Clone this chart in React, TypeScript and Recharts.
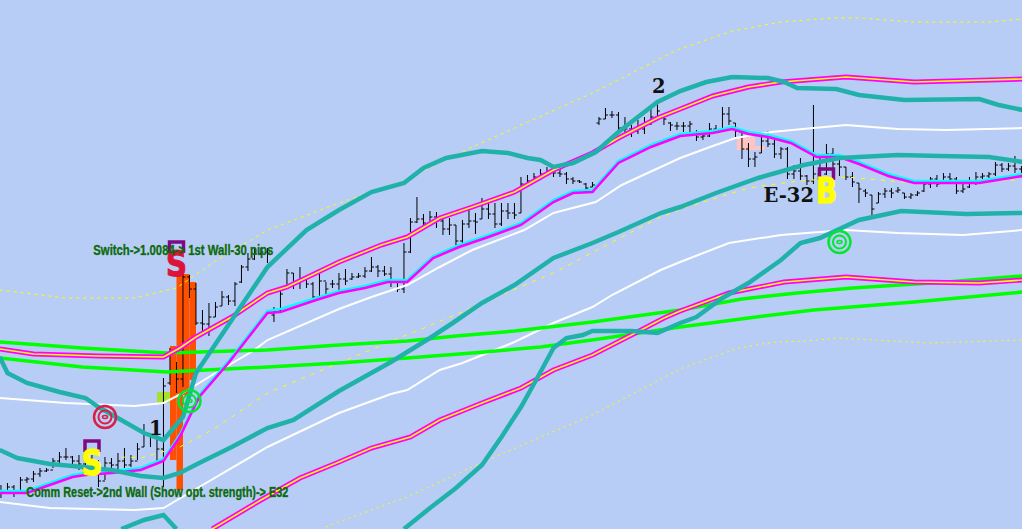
import { Bar, ComposedChart, Line, ReferenceArea, Scatter, XAxis, YAxis } from 'recharts'

const barHigh = [44,46,44,52,52,58,61,61,71,77,81,73,74,77,74,69,72,71,76,81,74,86,105,96,94,151,181,167,256,254,246,219,226,227,238,234,247,264,276,281,281,281,222,242,260,256,262,254,247,255,247,249,256,260,256,256,262,272,264,263,262,249,286,311,332,315,318,317,311,311,304,309,321,316,331,327,326,326,326,326,352,354,356,360,362,361,362,357,352,349,346,347,412,421,418,417,412,404,409,412,420,426,414,407,407,407,408,399,397,406,404,422,422,406,397,386,377,393,398,389,382,382,364,371,354,424,375,385,381,372,362,357,346,340,334,337,341,341,342,336,336,338,347,352,354,356,356,352,346,352,357,356,357,367,366,366,373,363]
const barLow = [31,36,32,37,46,47,52,57,61,65,69,62,59,62,56,42,49,57,58,61,62,69,82,82,67,42,144,136,142,231,204,194,193,212,223,224,223,246,258,269,274,266,207,217,241,240,240,241,228,231,232,241,236,244,249,251,251,257,252,253,242,237,236,276,306,302,303,301,294,294,284,285,301,295,310,310,301,303,310,310,316,343,346,349,354,352,352,345,345,346,337,342,404,410,411,398,397,392,395,395,404,412,404,398,399,397,393,388,389,392,397,397,404,392,370,362,362,376,382,371,370,350,350,349,344,345,337,354,359,353,349,342,326,332,314,326,331,331,336,330,330,333,337,341,342,346,345,335,336,341,344,350,351,353,357,358,356,355]
const barOpen = [38,36,42,38,49,50,55,58,59,68,72,72,68,65,70,62,48,66,64,68,64,68,82,94,92,80,146,158,150,252,240,206,205,212,223,232,228,247,262,270,275,277,214,218,241,256,246,250,245,232,248,245,245,250,250,252,253,258,262,258,255,247,240,277,307,310,306,312,308,300,304,288,305,308,310,320,315,305,318,316,316,345,348,352,355,358,356,355,350,348,345,342,406,410,414,414,401,400,398,400,405,412,414,406,403,403,403,396,392,393,400,399,415,406,397,380,370,376,388,385,375,380,355,358,353,348,355,355,375,365,362,352,346,338,334,326,335,338,338,336,332,334,338,345,350,346,352,350,338,342,348,352,353,355,364,360,363,360]
const barClose = [36,42,38,49,50,55,58,59,68,72,72,68,65,70,62,48,66,64,68,64,68,80,96,92,80,143,158,150,252,240,206,205,212,222,232,228,245,262,270,275,277,276,218,235,256,246,250,245,232,248,240,245,250,248,252,253,258,262,258,255,247,240,277,307,310,306,312,308,300,304,288,305,308,307,320,315,305,318,316,314,345,348,352,355,358,356,355,350,348,347,341,344,410,414,414,401,400,398,400,405,412,418,410,404,403,403,405,392,393,400,399,415,408,398,380,370,372,388,385,375,380,355,358,353,348,355,345,375,365,362,352,347,340,336,320,335,338,336,339,332,334,336,345,350,345,352,350,338,340,348,352,353,355,364,360,363,360,358]

const tealUpperBars = [-0.2,1,4,9,13,15,18.5,22,25,28,30,35.5,41,47,52,57,62,65,68.5,74,78,81,83,85,88,91.5,95,101,104.5,108.5,112.5,118,120.5,122.5,128.5,132,139,150.5,153.5,157.2]
const tealUpperValues = [172,156,146,137,131,122,109,96,89,112,156,209,262,299,319,337,346,361,371,378,376,371,369,362,366,377,397,427,438,447,452,451,447,441,440,434,429,430,424,419]
const tealMiddleBars = [-0.2,2.5,7.5,11,17,21.5,25,27.5,30.5,35.5,41,45,52,60,66,69.5,74,79,85,91,95,101.5,104.5,110,116.5,123.5,129,138,144.5,152,157.2]
const tealMiddleValues = [79,71,65,63,59,53,51,56,66,82,101,109,138,167,191,206,226,244,271,286,297,316,322,336,351,364,371,374,373,372,367]
const tealDipBars = [18.5,22,25,27]
const tealDipValues = [0,9,14,0]
const tealLowerBars = [62,66,70,74,77,80,82.5,85,87,89.5,91,97,101,104.5,107,111,115,120,123,126,132,138.5,148.5,157.2]
const tealLowerValues = [0,21,41,64,92,122,151,181,191,194,198,198,196,206,212,231,246,269,286,291,309,318,315,316]

const bandUpperBars = [-0.2,5,15,25,27.5,30,35.5,41,44,52,58.5,62.5,67.5,72.5,79,85,91,95,101,104.5,109.5,115,120,130,140.5,157.2]
const bandUpperValues = [180,175,173,172,181,192,212,236,242,267,284,292,311,322,337,359,376,391,411,420,433,442,447,452,447,450]
const bandLowerBars = [32.5,40,46,52,57,63,67.5,74,80,85,91,97,102,104.5,112,120.5,130,140.5,150.5,157.2]
const bandLowerValues = [0,29,51,67,81,92,109,126,141,159,174,194,211,218,236,247,252,247,246,249]

const signalBars = [-0.2,4,7.5,11,13,17,21.5,25,27.5,29,30.5,35,41,43,48.5,52,56,59.5,62.5,66.5,70.5,75,80,85,88,91,95,100,104.5,109.5,112.5,115,118,121.5,125.5,129,132,136.5,140.5,147,150.5,157.2]
const signalValues = [36,36,44,52,54,56,59,68,92,112,132,166,216,217,229,236,241,247,247,271,282,292,304,327,336,337,366,382,393,396,400,395,392,386,372,372,365,353,346,346,346,353]
const signalFastValues = [38,38,46,54,56,58,61,70,94,114,134,168,218,220,231,238,243,249,249,273,284,294,306,329,338,339,368,384,395,398,402,397,394,388,374,374,367,355,348,348,348,355]

const whiteUpperBars = [-0.2,10,20.5,25,28,33,39,41,52,57,62.5,67.5,72.5,80.5,85,91.5,95.5,104.5,109.5,113,118.5,125,130,138,145.5,157.2]
const whiteUpperValues = [131,126,123,126,136,156,179,189,220,232,244,262,279,299,316,327,344,371,383,391,397,401,404,400,399,401]
const whiteLowerBars = [-0.2,7.5,20.5,25,30.5,41,52,60,62.5,67.5,71,79,85,91,94,101.5,104.5,112,120,130,138,148,157.2]
const whiteLowerValues = [27,21,19,21,42,82,116,135,139,159,166,187,206,222,234,259,267,286,294,299,296,294,299]

const greenUpperBars = [-0.2,12.5,25.5,41,52,62.5,70,79,91,104.5,114,122.5,131,145.5,157.2]
const greenUpperValues = [187,181,176,179,184,188,193,198,207,219,230,236,241,247,253]
const greenLowerBars = [-0.2,12.5,25.5,41,52,62.5,72.5,83,92,104.5,115,125,140.5,157.2]
const greenLowerValues = [171,162,157,162,166,171,176,182,190,202,211,219,227,237]

const dotUpperBars = [-0.2,10,20.5,27,32.5,41,52,61.5,71.5,91,98,104,112.5,120,128,132.5,140,152,157.2]
const dotUpperValues = [239,231,231,241,266,299,326,347,379,436,459,479,498,507,511,511,507,507,510]
const dotMiddleBars = [18.5,21.5,27.5,32.5,41,52,68,78,85,95.5,101.5,105.5,115,121.5,130,140.5,156]
const dotMiddleValues = [72,71,82,99,136,166,209,237,256,292,312,322,341,347,352,346,349]
const dotLowerBars = [50,52,62.5,72.5,83,91,104.5,109.5,113.5,119,124,129,134,143,157.2]
const dotLowerValues = [2,7,32,62,92,114,160,172,181,187,188,191,189,186,189]

const orangeFrom = [26,27,28,29]
const orangeTo = [27,28,29,30]
const orangeHigh = [183,255,255,247]
const orangeLow = [69,39,134,149]

const redTargetBars = [16]
const redTargetValues = [112]
const greenTargetBars = [29,129]
const greenTargetValues = [128,287]

const waveLabels = ['1','2','E-32']
const waveBars = [23.8,101.2,121.2]
const waveValues = [102,444,335]

const sellBars = [27]
const sellValues = [266]
const entryLabels = ['S','B']
const entryBars = [14,127]
const entryValues = [67,339]

const notes = ['Switch->1.0084-> 1st Wall-30 pips','Comm Reset->2nd Wall (Show opt. strength)-> E32']
const noteBars = [14.2,3.9]
const noteValues = [274,32]
const noteWidths = [180,262]

const ohlc = barHigh.map((high, i) => ({ bar: i, high, low: barLow[i], open: barOpen[i], close: barClose[i] }))
const pts = (bars: number[], values: number[], extra?: string[]) =>
    bars.map((bar, i) => ({ bar, value: values[i], text: extra ? extra[i] : '' }))

const BG = '#B8CDF6'

function OhlcBar(props: any) {
    const { x, y, width, height, payload } = props
    const cx = x + width / 2
    const top = Math.min(y, y + height)
    const h = Math.abs(height)
    const at = (v: number) => top + ((payload.high - v) / (payload.high - payload.low)) * h
    return (
        <g stroke="#000" strokeWidth={1} fill="none">
            <line x1={cx} x2={cx} y1={top} y2={top + h} />
            <line x1={cx - 2.5} x2={cx} y1={at(payload.open)} y2={at(payload.open)} />
            <line x1={cx} x2={cx + 2.5} y1={at(payload.close)} y2={at(payload.close)} />
        </g>
    )
}

function Target(color: string) {
    return (props: any) => (
        <g fill="none" stroke={color}>
            <circle cx={props.cx} cy={props.cy} r={11} strokeWidth={2.5} />
            <circle cx={props.cx} cy={props.cy} r={6.5} strokeWidth={2} />
            <ellipse cx={props.cx} cy={props.cy} rx={2.5} ry={1.5} strokeWidth={1.5} />
        </g>
    )
}

function WaveLabel(props: any) {
    return (
        <text x={props.cx} y={props.cy + 8} textAnchor="middle" fontFamily="'DejaVu Serif'" fontWeight="bold" fontSize={19.5} fill="#111">
            {props.payload.text}
        </text>
    )
}

function Hat(cx: number, cy: number) {
    return <path d={`M${cx - 7} ${cy + 8}V${cy - 3}H${cx + 7}V${cy + 8}`} fill="none" stroke="#7D0A82" strokeWidth={3.5} />
}

function Entry(color: string) {
    return (props: any) => (
        <g>
            {Hat(props.cx, props.cy - 18)}
            <text x={props.cx} y={props.cy + 13} textAnchor="middle" textLength={21} lengthAdjust="spacingAndGlyphs"
                fontFamily="'DejaVu Sans'" fontWeight="bold" fontSize={35} fill={color} stroke={color} strokeWidth={1.2}>
                {props.payload.text}
            </text>
        </g>
    )
}

function Note(props: any) {
    return (
        <text x={props.cx} y={props.cy} textLength={noteWidths[notes.indexOf(props.payload.text)]} lengthAdjust="spacingAndGlyphs"
            fontFamily="'Liberation Sans'" fontWeight="bold" fontSize={14.5} fill="#0B6A0B" stroke="#0B6A0B" strokeWidth={0.5} strokeOpacity={0.7}>
            {props.payload.text}
        </text>
    )
}

const line = (key: string, bars: number[], values: number[], color: string, width: number, dash?: string) => (
    <Line key={key} data={pts(bars, values)} dataKey="value" type="linear" stroke={color} strokeWidth={width}
        strokeDasharray={dash} dot={false} activeDot={false} legendType="none" isAnimationActive={false} />
)

export default function App() {
    return (
        <div style={{ width: 1022, height: 529, background: BG, overflow: 'hidden' }}>
            <style>{'body{margin:0;overflow:hidden}'}</style>
            <ComposedChart width={1022} height={529} data={ohlc} margin={{ top: 0, right: 0, bottom: 0, left: 0 }}>
                <XAxis dataKey="bar" type="number" domain={[-0.154, 157.08]} allowDataOverflow hide />
                <YAxis dataKey="value" type="number" domain={[0, 529]} allowDataOverflow hide />

                {orangeFrom.map((from, i) => (
                    <ReferenceArea key={i} x1={from} x2={orangeTo[i]} y1={orangeLow[i]} y2={orangeHigh[i]} fill="#FF5000" fillOpacity={1} stroke="none" />
                ))}
                <ReferenceArea x1={24} x2={26} y1={126} y2={137} fill="#A8E030" fillOpacity={1} stroke="none" />
                <ReferenceArea x1={113.2} x2={116} y1={379} y2={392} fill="#FFC4C4" fillOpacity={1} stroke="none" />
                <ReferenceArea x1={116} x2={117.5} y1={379} y2={383} fill="#FFC4C4" fillOpacity={1} stroke="none" />

                <Bar dataKey={(d: any) => [d.low, d.high]} barSize={5} shape={OhlcBar} isAnimationActive={false} />

                {line('dotUpper', dotUpperBars, dotUpperValues, '#FFFF00', 1, '3 4')}
                {line('dotMiddle', dotMiddleBars, dotMiddleValues, '#FFFF00', 1, '4 6')}
                {line('dotLower', dotLowerBars, dotLowerValues, '#FFFF00', 1, '2 4')}
                {line('whiteUpper', whiteUpperBars, whiteUpperValues, '#FFFFFF', 2)}
                {line('whiteLower', whiteLowerBars, whiteLowerValues, '#FFFFFF', 2)}
                {line('greenUpper', greenUpperBars, greenUpperValues, '#00FF00', 3.5)}
                {line('greenLower', greenLowerBars, greenLowerValues, '#00FF00', 3.5)}
                {line('signalFast', signalBars, signalFastValues, '#00FFFF', 2.5)}
                {line('signal', signalBars, signalValues, '#FF00FF', 2.5)}
                {line('bandUpper', bandUpperBars, bandUpperValues, '#FF00FF', 5)}
                {line('bandUpperCore', bandUpperBars, bandUpperValues, '#FFFF00', 1.6)}
                {line('bandLower', bandLowerBars, bandLowerValues, '#FF00FF', 5)}
                {line('bandLowerCore', bandLowerBars, bandLowerValues, '#FFFF00', 1.6)}
                {line('tealUpper', tealUpperBars, tealUpperValues, '#20B2AA', 4.5)}
                {line('tealMiddle', tealMiddleBars, tealMiddleValues, '#20B2AA', 4.5)}
                {line('tealDip', tealDipBars, tealDipValues, '#20B2AA', 4.5)}
                {line('tealLower', tealLowerBars, tealLowerValues, '#20B2AA', 4.5)}

                <Scatter data={pts(redTargetBars, redTargetValues)} dataKey="value" shape={Target('#DC1E46')} isAnimationActive={false} />
                <Scatter data={pts(greenTargetBars, greenTargetValues)} dataKey="value" shape={Target('#00E632')} isAnimationActive={false} />
                <Scatter data={pts(waveBars, waveValues, waveLabels)} dataKey="value" shape={WaveLabel} isAnimationActive={false} />
                <Scatter data={pts(sellBars, sellValues, ['S'])} dataKey="value" shape={Entry('#DC143C')} isAnimationActive={false} />
                <Scatter data={pts(entryBars, entryValues, entryLabels)} dataKey="value" shape={Entry('#FFFF00')} isAnimationActive={false} />
                <Scatter data={pts(noteBars, noteValues, notes)} dataKey="value" shape={Note} isAnimationActive={false} />
            </ComposedChart>
        </div>
    )
}
